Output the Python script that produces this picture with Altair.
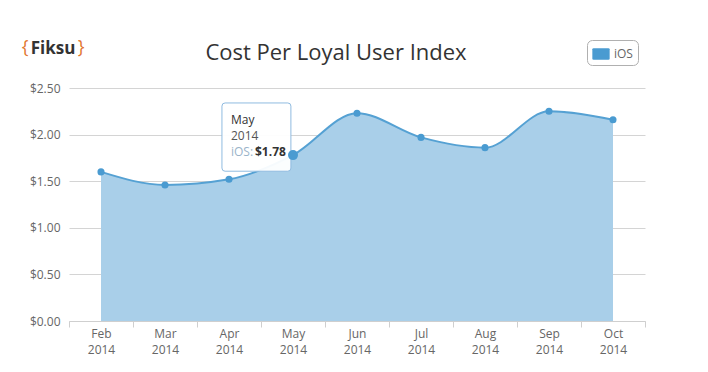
import altair as alt
import pandas as pd

# ---- data ----
months = ["Feb 2014", "Mar 2014", "Apr 2014", "May 2014", "Jun 2014",
          "Jul 2014", "Aug 2014", "Sep 2014", "Oct 2014"]
values = [1.60, 1.46, 1.52, 1.78, 2.23, 1.97, 1.86, 2.25, 2.16]
series_name = "iOS"
y_ticks = [0, 0.5, 1.0, 1.5, 2.0, 2.5]
highlight_index = 3  # May 2014 tooltip
title_text = "Cost Per Loyal User Index"

df = pd.DataFrame({"month": months, "value": values, "series": series_name})
tip = pd.DataFrame({
    "month": [months[highlight_index]],
    "value": [values[highlight_index]],
    "m": [months[highlight_index].split(" ")[0]],
    "yr": [months[highlight_index].split(" ")[1]],
    "lab": [series_name + ":"],
    "val": ["$%.2f" % values[highlight_index]],
})
logo = pd.DataFrame({"t": ["Fiksu"], "title": [title_text]})

FONT = "Open Sans"
FILL = "#a9cfe9"
LINE = "#55a1d3"

x_enc = alt.X(
    "month:N", sort=months,
    scale=alt.Scale(type="band", paddingInner=0, paddingOuter=0),
    bandPosition=0.5,
    axis=alt.Axis(title=None, labelExpr="split(datum.label, ' ')", labelAngle=0,
                  tickBand="extent", domainColor="#cfcfcf", tickColor="#cfcfcf",
                  tickSize=6, labelColor="#666666", labelFontSize=12, labelFont=FONT,
                  labelPadding=1, labelLineHeight=16, grid=False),
)
y_enc = alt.Y(
    "value:Q", scale=alt.Scale(domain=[0, 2.5], nice=False, zero=True),
    axis=alt.Axis(title=None, format="$.2f", values=y_ticks, domain=False, ticks=False,
                  gridColor="#d4d4d4", labelColor="#666666", labelFontSize=12,
                  labelFont=FONT, labelPadding=9),
)

base = alt.Chart(df).encode(x=x_enc, y=y_enc)

area = base.mark_area(interpolate="monotone", color=FILL, opacity=1)
line = base.mark_line(interpolate="monotone", color=LINE, strokeWidth=2)
points = base.mark_point(filled=True, size=50, opacity=1).encode(
    color=alt.Color("series:N", scale=alt.Scale(domain=[series_name], range=["#4a9bd1"]),
                    legend=alt.Legend(title=None, orient="none", legendX=518, legendY=-48,
                                      strokeColor="#b0b0b0", cornerRadius=5, padding=5,
                                      fillColor="white",
                                      symbolType="M-1,-0.55 Q-1,-0.65 -0.85,-0.65 H0.85 Q1,-0.65 1,-0.55 V0.55 Q1,0.65 0.85,0.65 H-0.85 Q-1,0.65 -1,0.55 Z",
                                      symbolSize=300, symbolStrokeWidth=0,
                                      labelColor="#666666", labelFontSize=12, labelFont=FONT))
)

tip_base = alt.Chart(tip).encode(
    x=alt.X("month:N", sort=months, bandPosition=0.5),
    y=alt.Y("value:Q"),
)
box_path = ("M-1.94,-1.49 H-0.15 Q-0.06,-1.49 -0.06,-1.40 V0.37 Q-0.06,0.46 -0.15,0.46 "
            "H-1.94 Q-2.03,0.46 -2.03,0.37 V-1.40 Q-2.03,-1.49 -1.94,-1.49 Z")
tip_box = tip_base.mark_point(shape=box_path, size=4900, filled=True, fill="white",
                              stroke="#8fbbe0", strokeWidth=1, opacity=1, fillOpacity=0.95)
tip_pt = tip_base.mark_point(filled=True, size=100, color="#4a9bd1", opacity=1)
t1 = tip_base.mark_text(align="left", baseline="middle", dx=-62, dy=-35, fontSize=12,
                        font=FONT, color="#333333").encode(text="m:N")
t2 = tip_base.mark_text(align="left", baseline="middle", dx=-62, dy=-19, fontSize=12,
                        font=FONT, color="#555555").encode(text="yr:N")
t3 = tip_base.mark_text(align="left", baseline="middle", dx=-62, dy=-3, fontSize=12,
                        font=FONT, color="#9ab3c9").encode(text="lab:N")
t4 = tip_base.mark_text(align="left", baseline="middle", dx=-38, dy=-3, fontSize=12,
                        font=FONT, fontWeight="bold", color="#333333").encode(text="val:N")

logo_base = alt.Chart(logo)
title_mark = logo_base.mark_text(fontSize=22, font=FONT, color="#333333",
                                 baseline="alphabetic", align="center").encode(
    x=alt.value(267), y=alt.value(-28), text="title:N")
logo_txt = logo_base.mark_text(fontSize=17, font=FONT, fontWeight="bold", color="#333333",
                               baseline="middle").encode(
    x=alt.value(-16), y=alt.value(-39), text="t:N")
brace_l = logo_base.mark_text(fontSize=18, font=FONT, color="#e2762f",
                              baseline="middle", text="{").encode(
    x=alt.value(-44), y=alt.value(-40))
brace_r = logo_base.mark_text(fontSize=18, font=FONT, color="#e2762f",
                              baseline="middle", text="}").encode(
    x=alt.value(12), y=alt.value(-40))

chart = alt.layer(
    area, line, points, tip_box, tip_pt, t1, t2, t3, t4, title_mark, logo_txt, brace_l, brace_r
).properties(
    width=576, height=233,
    autosize=alt.AutoSizeParams(type="none"),
    padding={"left": 61, "top": 80, "right": 50, "bottom": 40},
    background="white",
).configure_view(stroke=None)

chart.save("out.html", embed_options={"renderer": "svg", "actions": False})
